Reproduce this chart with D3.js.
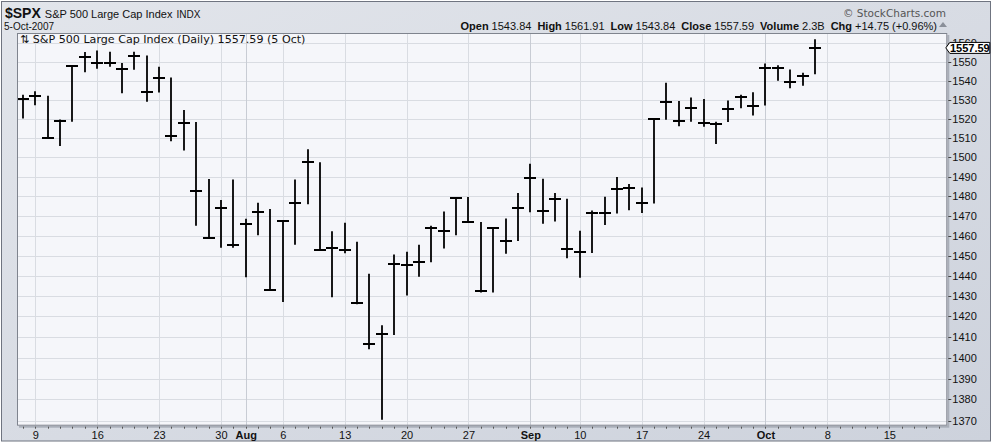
<!DOCTYPE html>
<html>
<head>
<meta charset="utf-8">
<script src="https://cdn.jsdelivr.net/npm/d3@7"></script>
<style>
  body { margin: 0; background: #fff; }
  svg { display: block; }
</style>
</head>
<body>
<div id="chart"></div>
<script>
// Daily bars (High / Low / Close)
const dates = [
  "2007-07-06", "2007-07-09", "2007-07-10", "2007-07-11", "2007-07-12", "2007-07-13",
  "2007-07-16", "2007-07-17", "2007-07-18", "2007-07-19", "2007-07-20",
  "2007-07-23", "2007-07-24", "2007-07-25", "2007-07-26", "2007-07-27",
  "2007-07-30", "2007-07-31", "2007-08-01", "2007-08-02", "2007-08-03",
  "2007-08-06", "2007-08-07", "2007-08-08", "2007-08-09", "2007-08-10",
  "2007-08-13", "2007-08-14", "2007-08-15", "2007-08-16", "2007-08-17",
  "2007-08-20", "2007-08-21", "2007-08-22", "2007-08-23", "2007-08-24",
  "2007-08-27", "2007-08-28", "2007-08-29", "2007-08-30", "2007-08-31",
  "2007-09-04", "2007-09-05", "2007-09-06", "2007-09-07",
  "2007-09-10", "2007-09-11", "2007-09-12", "2007-09-13", "2007-09-14",
  "2007-09-17", "2007-09-18", "2007-09-19", "2007-09-20", "2007-09-21",
  "2007-09-24", "2007-09-25", "2007-09-26", "2007-09-27", "2007-09-28",
  "2007-10-01", "2007-10-02", "2007-10-03", "2007-10-04", "2007-10-05"
];
const highs = [
  1532.40, 1534.26, 1531.85, 1519.34, 1547.92, 1555.10,
  1555.90, 1555.32, 1549.20, 1555.20, 1553.19,
  1547.23, 1541.57, 1524.31, 1518.09, 1488.53,
  1477.88, 1488.30, 1468.38, 1476.43, 1473.23,
  1467.67, 1488.30, 1503.89, 1497.21, 1462.02,
  1466.29, 1456.74, 1440.78, 1415.47, 1450.33,
  1451.75, 1455.32, 1464.86, 1472.06, 1479.40,
  1479.36, 1466.72, 1463.76, 1468.43, 1481.47,
  1496.40, 1488.76, 1481.49, 1478.55,
  1462.25, 1472.48, 1479.50, 1489.58, 1485.99,
  1484.24, 1519.89, 1538.74, 1529.14, 1530.89,
  1530.18, 1518.27, 1529.39, 1532.46, 1533.74,
  1549.02, 1548.01, 1545.84, 1544.02, 1561.91
];
const lows = [
  1520.47, 1527.45, 1510.01, 1506.10, 1518.74, 1544.85,
  1546.69, 1547.74, 1533.67, 1546.13, 1529.20,
  1534.06, 1508.62, 1503.73, 1465.30, 1458.95,
  1454.32, 1454.25, 1439.59, 1460.58, 1432.80,
  1427.39, 1455.80, 1476.22, 1453.09, 1429.74,
  1451.54, 1426.20, 1404.36, 1370.60, 1411.26,
  1430.54, 1439.76, 1447.03, 1453.88, 1460.54,
  1466.79, 1432.01, 1432.01, 1451.25, 1457.61,
  1472.15, 1466.34, 1467.41, 1449.07,
  1439.29, 1451.69, 1465.75, 1471.47, 1473.18,
  1471.82, 1476.63, 1519.75, 1516.42, 1518.75,
  1516.15, 1507.13, 1518.62, 1525.81, 1521.99,
  1527.25, 1540.37, 1536.34, 1537.63, 1543.84
];
const closes = [
  1530.44, 1531.85, 1510.12, 1518.76, 1547.70, 1552.50,
  1549.52, 1549.37, 1546.17, 1553.08, 1534.10,
  1541.57, 1511.04, 1518.09, 1482.66, 1458.95,
  1473.91, 1455.27, 1465.81, 1472.20, 1433.06,
  1467.67, 1476.71, 1497.49, 1453.09, 1453.64,
  1452.92, 1426.54, 1406.70, 1411.27, 1445.94,
  1445.55, 1447.12, 1464.07, 1462.50, 1479.37,
  1466.79, 1432.36, 1463.76, 1457.64, 1473.99,
  1489.42, 1472.29, 1478.55, 1453.55,
  1451.70, 1471.49, 1471.56, 1483.95, 1484.25,
  1476.65, 1519.78, 1529.03, 1518.75, 1525.75,
  1517.73, 1517.21, 1525.42, 1531.38, 1526.75,
  1547.04, 1546.63, 1539.59, 1542.84, 1557.59
];

// x axis labels (gridlines sit on these days)
const tickDates = [
  "2007-07-09", "2007-07-16", "2007-07-23", "2007-07-30", "2007-08-01",
  "2007-08-06", "2007-08-13", "2007-08-20", "2007-08-27", "2007-09-04",
  "2007-09-10", "2007-09-17", "2007-09-24", "2007-10-01", "2007-10-08", "2007-10-15"
];
const tickLabels = ["9", "16", "23", "30", "Aug", "6", "13", "20", "27", "Sep", "10", "17", "24", "Oct", "8", "15"];
const monthLabels = ["Aug", "Sep", "Oct"];
const axisEndDate = "2007-10-19";

// y axis labels
const yTicks = [1370, 1380, 1390, 1400, 1410, 1420, 1430, 1440, 1450, 1460, 1470,
  1480, 1490, 1500, 1510, 1520, 1530, 1540, 1550, 1560];

const title = "$SPX";
const subtitle = "S&P 500 Large Cap Index";
const exchange = "INDX";
const dateText = "5-Oct-2007";
const legendText = "\u21C5 S&P 500 Large Cap Index (Daily) 1557.59 (5 Oct)";
const quote = [["Open", "1543.84"], ["High", "1561.91"], ["Low", "1543.84"],
  ["Close", "1557.59"], ["Volume", "2.3B"], ["Chg", "+14.75 (+0.96%)"]];

// Layout
const svgWidth = 1001;
const svgHeight = 448;
const plot = { left: 17, right: 947.3, top: 33, bottom: 425.7 };
const font = "'Liberation Sans', Arial, sans-serif";

const parse = d3.timeParse("%Y-%m-%d");

// trading-day index: days in data by position, later days counted as weekdays
const lastDate = parse(dates[dates.length - 1]);
function dayIndex(ds) {
  const i = dates.indexOf(ds);
  if (i >= 0) return i;
  const extra = d3.timeDay.range(d3.timeDay.offset(lastDate, 1), d3.timeDay.offset(parse(ds), 1))
    .filter(d => d.getDay() % 6 !== 0).length;
  return dates.length - 1 + extra;
}
const lastIndex = dayIndex(axisEndDate);

const svg = d3.select("#chart")
  .append("svg")
  .attr("width", svgWidth)
  .attr("height", svgHeight);

const defs = svg.append("defs");
const grad = defs.append("linearGradient")
  .attr("id", "frameGrad")
  .attr("x1", 0).attr("y1", 0).attr("x2", 1).attr("y2", 1);
grad.append("stop").attr("offset", "0%").attr("stop-color", "#e2e5eb");
grad.append("stop").attr("offset", "100%").attr("stop-color", "#cdd2dc");

// Outer frame
svg.append("rect")
  .attr("x", 1.5).attr("y", 1.5)
  .attr("width", 989).attr("height", 439.5)
  .attr("fill", "url(#frameGrad)")
  .attr("stroke", "#6f7480");

// Scales
const xScale = d3.scaleLinear()
  .domain([-0.48, lastIndex + 0.69])
  .range([plot.left, plot.right]);

const yScale = d3.scaleLog()
  .domain([1367.6, 1565.6])
  .range([plot.bottom, plot.top]);

// Plot area with shadow
svg.append("rect")
  .attr("x", plot.left + 2).attr("y", plot.top + 2)
  .attr("width", plot.right - plot.left).attr("height", plot.bottom - plot.top)
  .attr("fill", "#a9aeb8");
svg.append("rect")
  .attr("x", plot.left).attr("y", plot.top)
  .attr("width", plot.right - plot.left).attr("height", plot.bottom - plot.top)
  .attr("fill", "#f5f6fa");

const chart = svg.append("g");

// Gridlines
chart.append("g")
  .selectAll("line")
  .data(yTicks)
  .join("line")
  .attr("x1", plot.left).attr("x2", plot.right)
  .attr("y1", d => Math.round(yScale(d)) + 0.5)
  .attr("y2", d => Math.round(yScale(d)) + 0.5)
  .attr("stroke", "#d9dce2");

chart.append("g")
  .selectAll("line")
  .data(tickDates)
  .join("line")
  .attr("x1", d => Math.round(xScale(dayIndex(d))) + 0.5)
  .attr("x2", d => Math.round(xScale(dayIndex(d))) + 0.5)
  .attr("y1", plot.top).attr("y2", plot.bottom)
  .attr("stroke", d => monthLabels.includes(tickLabels[tickDates.indexOf(d)]) ? "#c8ccd4" : "#d9dce2");

// Legend line inside the plot
svg.append("text")
  .attr("x", 20).attr("y", 43)
  .attr("font-family", "'DejaVu Sans', Verdana, sans-serif")
  .attr("font-size", 11.1)
  .attr("fill", "#111")
  .text(legendText);

// HLC bars
const bars = chart.append("g")
  .selectAll("g")
  .data(dates.map((d, i) => ({ date: d, i, high: highs[i], low: lows[i], close: closes[i] })))
  .join("g");

bars.append("line")
  .attr("x1", d => Math.round(xScale(d.i)))
  .attr("x2", d => Math.round(xScale(d.i)))
  .attr("y1", d => yScale(d.high) - 0.5)
  .attr("y2", d => yScale(d.low) + 0.5)
  .attr("stroke", "#000")
  .attr("stroke-width", 1.8);

bars.append("line")
  .attr("x1", d => Math.round(xScale(d.i)) - 6)
  .attr("x2", d => Math.round(xScale(d.i)) + 6)
  .attr("y1", d => Math.round(yScale(d.close)))
  .attr("y2", d => Math.round(yScale(d.close)))
  .attr("stroke", "#000")
  .attr("stroke-width", 2);

// Plot border
svg.append("rect")
  .attr("x", plot.left + 0.5).attr("y", plot.top + 0.5)
  .attr("width", plot.right - plot.left - 1).attr("height", plot.bottom - plot.top - 1)
  .attr("fill", "none")
  .attr("stroke", "#7f848e");

// Y axis (right)
const yAxis = svg.append("g");
yAxis.selectAll("line")
  .data(yTicks)
  .join("line")
  .attr("x1", plot.right + 1).attr("x2", plot.right + 4)
  .attr("y1", d => Math.round(yScale(d)) + 0.5)
  .attr("y2", d => Math.round(yScale(d)) + 0.5)
  .attr("stroke", "#444");
yAxis.selectAll("text")
  .data(yTicks)
  .join("text")
  .attr("x", plot.right + 5)
  .attr("y", d => yScale(d) + 4)
  .attr("font-family", font)
  .attr("font-size", 11)
  .attr("fill", "#111")
  .text(d => d);

// X axis (bottom): a small tick on each trading day, labels on gridline days
const allDays = d3.range(0, lastIndex + 1);
svg.append("g")
  .selectAll("line")
  .data(allDays)
  .join("line")
  .attr("x1", d => Math.round(xScale(d)) + 0.5)
  .attr("x2", d => Math.round(xScale(d)) + 0.5)
  .attr("y1", plot.bottom + 1).attr("y2", plot.bottom + 3)
  .attr("stroke", "#555");

svg.append("g")
  .selectAll("text")
  .data(tickDates)
  .join("text")
  .attr("x", d => xScale(dayIndex(d)) + 0.5)
  .attr("y", 438.5)
  .attr("text-anchor", "middle")
  .attr("font-family", font)
  .attr("font-size", 11)
  .attr("font-weight", (d, i) => monthLabels.includes(tickLabels[i]) ? "bold" : "normal")
  .attr("fill", "#111")
  .text((d, i) => tickLabels[i]);

// Last price tag (drawn over the 1560 label, as in the original)
const lastClose = closes[closes.length - 1];
const tagY = yScale(lastClose);
const tag = svg.append("g");
tag.append("path")
  .attr("d", `M${plot.right - 1.5},${tagY} L${plot.right + 2.5},${tagY - 5.5} L${plot.right + 42.5},${tagY - 5.5} L${plot.right + 42.5},${tagY + 5.5} L${plot.right + 2.5},${tagY + 5.5} Z`)
  .attr("fill", "#fff")
  .attr("stroke", "#000");
tag.append("text")
  .attr("x", plot.right + 22.5)
  .attr("y", tagY + 4)
  .attr("text-anchor", "middle")
  .attr("font-family", font)
  .attr("font-size", 11)
  .attr("font-weight", "bold")
  .attr("fill", "#000")
  .text(lastClose.toFixed(2));

// Header
const head = svg.append("text")
  .attr("x", 5).attr("y", 17.5)
  .attr("font-family", font)
  .attr("fill", "#111");
head.append("tspan").attr("font-size", 14).attr("font-weight", "bold").text(title);
head.append("tspan").attr("font-size", 11).attr("dx", 4).text(subtitle);
head.append("tspan").attr("font-size", 10).attr("dx", 4).text(exchange);

svg.append("text")
  .attr("x", 4).attr("y", 30)
  .attr("font-family", font)
  .attr("font-size", 10)
  .attr("fill", "#111")
  .text(dateText);

svg.append("text")
  .attr("x", 946).attr("y", 17)
  .attr("text-anchor", "end")
  .attr("font-family", "'DejaVu Sans', Verdana, sans-serif")
  .attr("font-size", 10.5)
  .attr("fill", "#555")
  .text("\u00A9 StockCharts.com");

const q = svg.append("text")
  .attr("x", 937).attr("y", 29.5)
  .attr("text-anchor", "end")
  .attr("font-family", font)
  .attr("font-size", 11)
  .attr("fill", "#111");
quote.forEach(([k, v], i) => {
  q.append("tspan").attr("font-weight", "bold").attr("dx", i ? 6 : 0).text(k);
  q.append("tspan").attr("dx", 3).text(v);
});

svg.append("path")
  .attr("d", "M939,27 L943,22 L947,27 Z")
  .attr("fill", "#8a8f99");
</script>
</body>
</html>
